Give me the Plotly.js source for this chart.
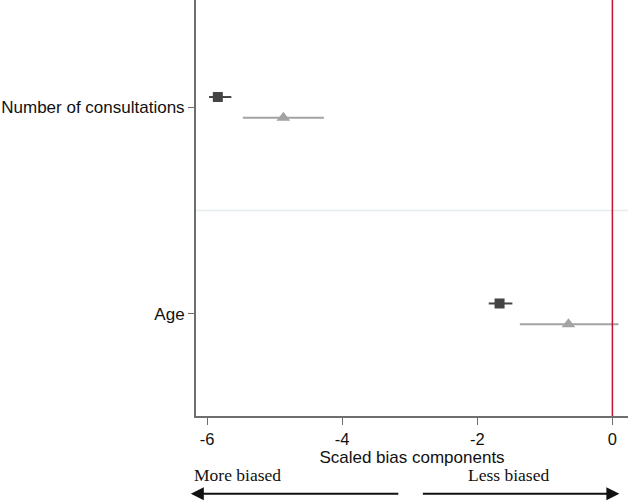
<!DOCTYPE html>
<html><head><meta charset="utf-8">
<script src="https://cdn.plot.ly/plotly-3.0.1.min.js"></script>
<style>html,body{margin:0;padding:0;background:#fff}#chart{width:633px;height:502px}</style>
</head><body><div id="chart"></div>
<script>
const categories = ["Age", "Number of consultations"];
const seriesAEst = [-1.67, -5.84];
const seriesALow = [-1.83, -5.97];
const seriesAHigh = [-1.48, -5.64];
const seriesBEst = [-0.65, -4.87];
const seriesBLow = [-1.37, -5.47];
const seriesBHigh = [0.09, -4.27];
const xTicks = [-6, -4, -2, 0];

const catPos = categories.map((c, i) => i + 1);
const off = 0.05;
function trace(est, lo, hi, dy, sym, col, size) {
  return {
    type: 'scatter', mode: 'markers',
    x: est, y: catPos.map(p => p + dy),
    marker: {symbol: sym, size: size, color: col},
    error_x: {type: 'data', symmetric: false,
      array: hi.map((h, i) => h - est[i]),
      arrayminus: lo.map((l, i) => est[i] - l),
      color: col, thickness: 2, width: 0},
    showlegend: false, hoverinfo: 'x'
  };
}
const data = [
  trace(seriesAEst, seriesALow, seriesAHigh, off, 'square', '#444444', 10),
  trace(seriesBEst, seriesBLow, seriesBHigh, -off, 'triangle-up', '#a3a3a3', 12)
];
const serif = 'Liberation Serif, Times New Roman, serif';
const layout = {
  width: 633, height: 502,
  margin: {l: 196, r: 5, t: 0, b: 86},
  paper_bgcolor: '#fff', plot_bgcolor: '#fff',
  font: {family: 'Liberation Sans, Arial, sans-serif', size: 17, color: '#111'},
  xaxis: {range: [-6.163, 0.231], tickvals: xTicks, ticktext: xTicks.map(String),
    tickfont: {size: 16.5},
    showgrid: false, zeroline: false, showline: true, linecolor: '#6e6e6e', linewidth: 2,
    ticks: 'outside', ticklen: 7, tickcolor: '#6e6e6e', tickwidth: 1,
    title: {text: 'Scaled bias components', standoff: 0, font: {size: 17}}},
  yaxis: {range: [0.505, 2.52], tickvals: catPos, ticktext: categories,
    showgrid: false, zeroline: false, showline: true, linecolor: '#6e6e6e', linewidth: 2,
    ticks: 'outside', ticklen: 6, tickcolor: '#6e6e6e', tickwidth: 1},
  shapes: [
    {type: 'line', xref: 'paper', x0: 0, x1: 1, yref: 'y', y0: 1.5, y1: 1.5,
      line: {color: '#e4ecee', width: 1.5}},
    {type: 'line', xref: 'x', x0: 0, x1: 0, yref: 'paper', y0: 0, y1: 1,
      line: {color: '#c8102e', width: 1.5}}
  ],
  annotations: [
    {xref: 'paper', yref: 'paper', x: -0.01, y: -0.142, xanchor: 'left', yanchor: 'middle',
      text: 'More biased', showarrow: false,
      font: {family: serif, size: 17.5, color: '#111'}},
    {xref: 'paper', yref: 'paper', x: 0.624, y: -0.142, xanchor: 'left', yanchor: 'middle',
      text: 'Less biased', showarrow: false,
      font: {family: serif, size: 17.5, color: '#111'}},
    {xref: 'paper', yref: 'paper', x: -0.012, y: -0.187, text: '', showarrow: true,
      axref: 'pixel', ayref: 'pixel', ax: 209, ay: 0, arrowhead: 2, arrowsize: 1.3,
      arrowwidth: 2, arrowcolor: '#111', standoff: 0},
    {xref: 'paper', yref: 'paper', x: 0.98, y: -0.187, text: '', showarrow: true,
      axref: 'pixel', ayref: 'pixel', ax: -198, ay: 0, arrowhead: 2, arrowsize: 1.3,
      arrowwidth: 2, arrowcolor: '#111', standoff: 0}
  ]
};
Plotly.newPlot('chart', data, layout, {displayModeBar: false, staticPlot: true});
</script></body></html>
